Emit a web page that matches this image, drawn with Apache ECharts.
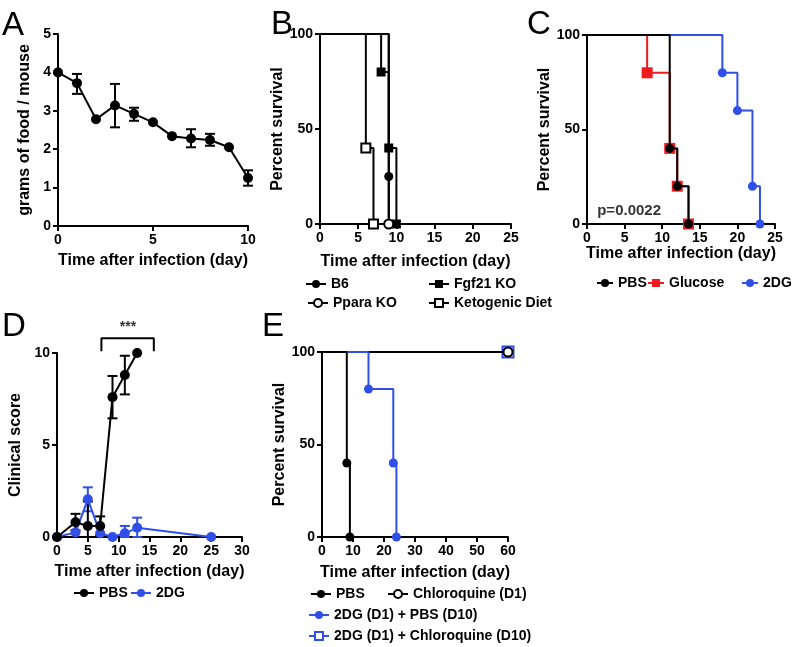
<!DOCTYPE html>
<html>
<head>
<meta charset="utf-8">
<script src="https://cdn.jsdelivr.net/npm/echarts@6/dist/echarts.min.js"></script>
<style>
  html, body { margin: 0; padding: 0; background: #fff; }
  #main { width: 793px; height: 647px; }
</style>
</head>
<body>
<div id="main"></div>
<script>
// A: food intake
const foodDays = [0, 1, 2, 3, 4, 5, 6, 7, 8, 9, 10]
const foodMean = [4.0, 3.72, 2.78, 3.14, 2.92, 2.70, 2.34, 2.28, 2.24, 2.05, 1.25]
const foodLow = [null, 3.44, null, 2.57, 2.74, null, null, 2.05, 2.09, null, 1.05]
const foodHigh = [null, 3.96, null, 3.70, 3.08, null, null, 2.52, 2.40, null, 1.45]

// B: survival
const b6Days = [0, 9, 9]
const b6Surv = [100, 25, 0]
const fgfDays = [0, 8, 9, 10]
const fgfSurv = [100, 80, 40, 0]
const pparaDays = [0, 9]
const pparaSurv = [100, 0]
const ketoDays = [0, 6, 7]
const ketoSurv = [100, 40, 0]

// C: survival
const cPbsDays = [0, 11, 12, 13.5]
const cPbsSurv = [100, 40, 20, 0]
const glucoseDays = [0, 8, 11, 12, 13.5]
const glucoseSurv = [100, 80, 40, 20, 0]
const c2dgDays = [0, 18, 20, 22, 23]
const c2dgSurv = [100, 80, 60, 20, 0]

// D: clinical score
const scoreDays = [0, 3, 5, 7, 9, 11, 13]
const pbsScore = [0, 0.8, 0.6, 0.6, 7.6, 8.8, 10]
const pbsLow = [null, 0.36, 0, 0.08, 6.45, 7.75, null]
const pbsHigh = [null, 1.26, 1.93, 1.12, 8.75, 9.85, null]
const dgDays = [0, 3, 5, 7, 9, 11, 13, 25]
const dgScore = [0, 0.25, 2.05, 0.2, 0, 0.2, 0.5, 0]
const dgLow = [null, null, 1.4, null, null, 0, 0, null]
const dgHigh = [null, null, 2.7, null, null, 0.6, 1.05, null]

// E: survival
const ePbsDays = [0, 8, 9]
const ePbsSurv = [100, 40, 0]
const chloroDays = [0, 60]
const chloroSurv = [100, 100]
const dgPbsDays = [0, 15, 23, 24]
const dgPbsSurv = [100, 80, 40, 0]
const dgChloroDays = [0, 60]
const dgChloroSurv = [100, 100]

const FONT = "'Liberation Sans', Arial, Helvetica, sans-serif"
const BLUE = '#2f4fe8'
const RED = '#ee1c1c'

const chart = echarts.init(document.getElementById('main'))

const pts = (xs, ys, hideFirst) => xs.map((x, i) => {
  if (hideFirst && i === 0) return { value: [x, ys[i]], symbol: 'none' }
  return [x, ys[i]]
})

const errData = (xs, lo, hi) => xs.map((x, i) => lo[i] == null ? null : [x, lo[i], hi[i]]).filter(d => d)

const errSeries = (idx, data, color) => ({
  type: 'custom',
  xAxisIndex: idx,
  yAxisIndex: idx,
  z: 1,
  silent: true,
  data: data,
  renderItem: (params, api) => {
    const x = api.value(0)
    const top = api.coord([x, api.value(2)])
    const bot = api.coord([x, api.value(1)])
    const w = 5
    const style = { stroke: color, lineWidth: 2 }
    return {
      type: 'group',
      children: [
        { type: 'line', shape: { x1: top[0], y1: top[1], x2: bot[0], y2: bot[1] }, style },
        { type: 'line', shape: { x1: top[0] - w, y1: top[1], x2: top[0] + w, y2: top[1] }, style },
        { type: 'line', shape: { x1: bot[0] - w, y1: bot[1], x2: bot[0] + w, y2: bot[1] }, style }
      ]
    }
  }
})

const stepSeries = (name, idx, xs, ys, color, symbol, open, z) => ({
  name: name,
  type: 'line',
  step: 'end',
  xAxisIndex: idx,
  yAxisIndex: idx,
  z: z || 2,
  symbol: symbol,
  symbolSize: 9,
  showAllSymbol: true,
  data: pts(xs, ys, true),
  lineStyle: { color: color, width: 2 },
  itemStyle: open ? { color: '#fff', borderColor: color, borderWidth: 2 } : { color: color, borderColor: color, borderWidth: 0 }
})

const lineSeries = (name, idx, xs, ys, color, z) => ({
  name: name,
  type: 'line',
  xAxisIndex: idx,
  yAxisIndex: idx,
  z: z || 2,
  symbol: 'circle',
  symbolSize: 10,
  showAllSymbol: true,
  data: pts(xs, ys, false),
  lineStyle: { color: color, width: 2 },
  itemStyle: { color: color }
})

const axisCommon = {
  type: 'value',
  axisLine: { show: true, onZero: false, lineStyle: { color: '#000', width: 2 } },
  axisTick: { show: true, length: 5, lineStyle: { color: '#000', width: 2 } },
  axisLabel: { color: '#000', fontFamily: FONT, fontWeight: 'bold', fontSize: 14, margin: 7 },
  splitLine: { show: false },
  nameLocation: 'middle',
  nameTextStyle: { color: '#000', fontFamily: FONT, fontWeight: 'bold', fontSize: 16 }
}

const xAx = (idx, max, interval, gap) => Object.assign({}, axisCommon, {
  gridIndex: idx, min: 0, max: max, interval: interval,
  name: 'Time after infection (day)', nameGap: gap
})
const yAx = (idx, max, interval, name, gap) => Object.assign({}, axisCommon, {
  gridIndex: idx, min: 0, max: max, interval: interval,
  name: name, nameGap: gap, nameRotate: 90
})

const leg = (name, left, cy, iw) => ({
  left: left, top: cy - 7, orient: 'horizontal',
  data: [name], selectedMode: false,
  itemWidth: iw || 20, itemHeight: 10,
  textStyle: { color: '#000', fontFamily: FONT, fontWeight: 'bold', fontSize: 14, padding: 0 },
  padding: 0
})

const letter = (t, left, top) => ({
  type: 'text', left: left, top: top,
  style: { text: t, fontFamily: FONT, fontSize: 33, fill: '#000' }
})

const option = {
  animation: false,
  backgroundColor: '#fff',
  grid: [
    { left: 58, top: 34, width: 190, height: 192 },
    { left: 320, top: 34, width: 191, height: 190 },
    { left: 587, top: 35, width: 188, height: 189 },
    { left: 57, top: 353, width: 185, height: 184 },
    { left: 322, top: 352, width: 186, height: 185 }
  ],
  xAxis: [
    xAx(0, 10, 5, 27),
    xAx(1, 25, 5, 30),
    xAx(2, 25, 5, 22),
    xAx(3, 30, 5, 27),
    xAx(4, 60, 10, 28)
  ],
  yAxis: [
    yAx(0, 5, 1, 'grams of food / mouse', 25),
    yAx(1, 100, 50, 'Percent survival', 34),
    yAx(2, 100, 50, 'Percent survival', 33),
    yAx(3, 10, 5, 'Clinical score', 33),
    yAx(4, 100, 50, 'Percent survival', 34)
  ],
  legend: [
    leg('B6', 305, 284),
    leg('Fgf21 KO', 428, 284),
    leg('Ppara KO', 307, 303),
    leg('Ketogenic Diet', 428, 303),
    leg('PBS', 596, 283, 16),
    leg('Glucose', 647, 283, 16),
    leg('2DG', 741, 283, 16),
    leg('PBS', 73, 593),
    leg('2DG', 130, 593),
    leg('PBS', 310, 594),
    leg('Chloroquine (D1)', 387, 594),
    leg('2DG (D1) + PBS (D10)', 308, 615),
    leg('2DG (D1) + Chloroquine (D10)', 308, 636)
  ],
  graphic: [
    letter('A', 2, 9),
    letter('B', 271, 8),
    letter('C', 527, 8),
    letter('D', 2, 310),
    letter('E', 262, 310)
  ],
  series: [
    // A
    errSeries(0, errData(foodDays, foodLow, foodHigh), '#000'),
    lineSeries('Food', 0, foodDays, foodMean, '#000', 3),

    // B
    stepSeries('Ketogenic Diet', 1, ketoDays, ketoSurv, '#000', 'rect', true),
    stepSeries('Fgf21 KO', 1, fgfDays, fgfSurv, '#000', 'rect', false),
    stepSeries('B6', 1, b6Days, b6Surv, '#000', 'circle', false),
    stepSeries('Ppara KO', 1, pparaDays, pparaSurv, '#000', 'circle', true, 3),

    // C
    Object.assign(stepSeries('Glucose', 2, glucoseDays, glucoseSurv, RED, 'rect', false), { symbolSize: 11 }),
    stepSeries('2DG', 2, c2dgDays, c2dgSurv, BLUE, 'circle', false),
    stepSeries('PBS', 2, cPbsDays, cPbsSurv, '#000', 'circle', false, 3),
    {
      type: 'scatter', xAxisIndex: 2, yAxisIndex: 2, symbolSize: 0, silent: true,
      data: [[5.6, 6.9]],
      label: { show: true, position: 'inside', formatter: 'p=0.0022', color: '#000', fontFamily: FONT, fontWeight: 'bold', fontSize: 15 }
    },

    // D
    errSeries(3, errData(dgDays, dgLow, dgHigh), BLUE),
    lineSeries('2DG', 3, dgDays, dgScore, BLUE, 2),
    errSeries(3, errData(scoreDays, pbsLow, pbsHigh), '#000'),
    lineSeries('PBS', 3, scoreDays, pbsScore, '#000', 3),
    {
      type: 'line', xAxisIndex: 3, yAxisIndex: 3, symbol: 'none', clip: false, silent: true,
      data: [[7.2, 10.1], [7.2, 10.8], [15.7, 10.8], [15.7, 10.1]],
      lineStyle: { color: '#000', width: 2 }
    },
    {
      type: 'scatter', xAxisIndex: 3, yAxisIndex: 3, symbolSize: 0, clip: false, silent: true,
      data: [[11.5, 11.4]],
      label: { show: true, position: 'inside', formatter: '***', color: '#000', fontFamily: FONT, fontWeight: 'bold', fontSize: 14 }
    },

    // E
    Object.assign(stepSeries('2DG (D1) + Chloroquine (D10)', 4, dgChloroDays, dgChloroSurv, BLUE, 'rect', true), { symbolSize: 11 }),
    stepSeries('Chloroquine (D1)', 4, chloroDays, chloroSurv, '#000', 'circle', true, 3),
    stepSeries('2DG (D1) + PBS (D10)', 4, dgPbsDays, dgPbsSurv, BLUE, 'circle', false, 4),
    stepSeries('PBS', 4, ePbsDays, ePbsSurv, '#000', 'circle', false, 5)
  ]
}

chart.setOption(option)
</script>
</body>
</html>
